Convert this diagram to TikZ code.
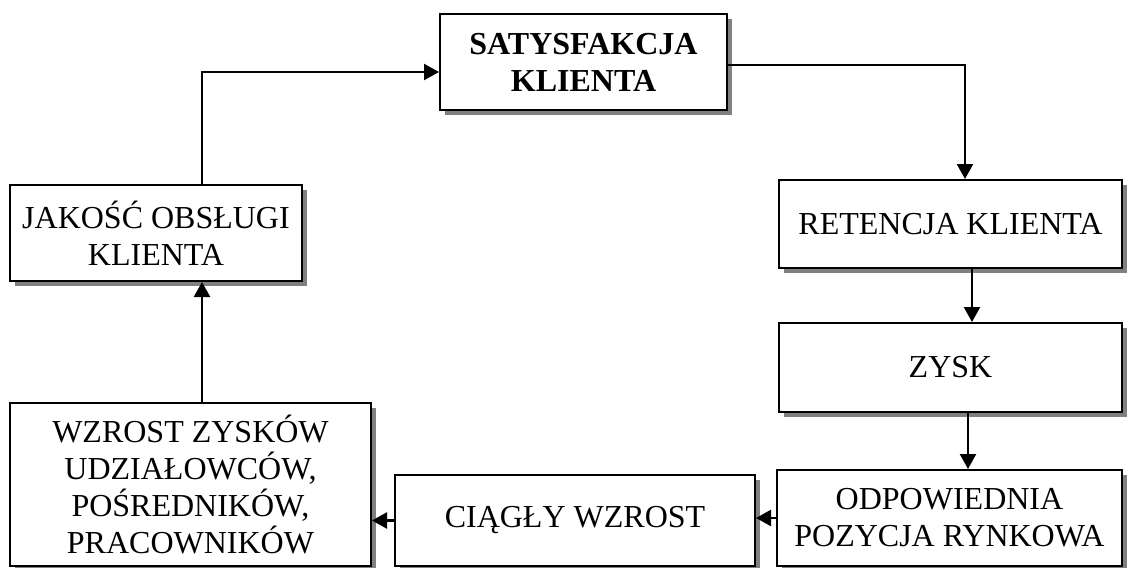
\documentclass[tikz,border=0pt]{standalone}
\usepackage{fontspec}
\setmainfont{Liberation Serif}
\usepackage{tikz}
\usetikzlibrary{arrows.meta, positioning, calc, shadows}
\tikzset{
    boxnode/.style={rectangle, draw=black, line width=1pt, fill=white, text centered, align=center, inner sep=2pt,
        drop shadow={shadow xshift=2.5pt, shadow yshift=-2.5pt, fill=black!50, opacity=1}},
    flowarrow/.style={-{Triangle[length=7.5pt, width=8pt]}, line width=1.2pt},
}

\begin{document}
\begin{tikzpicture}[x=0.5pt, y=-0.5pt, every node/.style={font=\fontsize{16}{18.5}\selectfont}]
        \useasboundingbox (0,0) rectangle (1132,568);
        \node[boxnode, minimum width=143.5pt, minimum height=48pt] (sat) at (583.5,62) {\textbf{SATYSFAKCJA}\\ \textbf{KLIENTA}};
        \node[boxnode, minimum width=146pt, minimum height=48pt] (jak) at (156,233) {JAKOŚĆ OBSŁUGI\\ KLIENTA};
        \node[boxnode, minimum width=171.5pt, minimum height=44pt] (ret) at (950.5,224) {RETENCJA KLIENTA};
        \node[boxnode, minimum width=171.5pt, minimum height=44.5pt] (zysk) at (950.5,367.5) {ZYSK};
        \node[boxnode, minimum width=172.5pt, minimum height=48pt] (odp) at (949.5,518) {ODPOWIEDNIA\\ POZYCJA RYNKOWA};
        \node[boxnode, minimum width=180pt, minimum height=45.5pt] (ciag) at (575,520.5) {CIĄGŁY WZROST};
        \node[boxnode, minimum width=180.5pt, minimum height=81.5pt] (wzr) at (190.5,484.5) {WZROST ZYSKÓW\\ UDZIAŁOWCÓW,\\ POŚREDNIKÓW,\\ PRACOWNIKÓW};

        % bend points
        \coordinate (left) at (202,72);
        \coordinate (right) at (965,65);
        \coordinate (mid1) at (972,0);
        \coordinate (mid2) at (968,0);

        \draw[flowarrow] (jak.north -| left) |- (sat.west |- left);
        \draw[flowarrow] (sat.east |- right) -| (ret.north -| right);
        \draw[flowarrow] (ret.south -| mid1) -- (zysk.north -| mid1);
        \draw[flowarrow] (zysk.south -| mid2) -- (odp.north -| mid2);
        \draw[flowarrow] (odp.west) -- (ciag.east |- odp.west);
        \draw[flowarrow] (ciag.west) -- (wzr.east |- ciag.west);
        \draw[flowarrow] (wzr.north -| left) -- (jak.south -| left);
    \end{tikzpicture}
\end{document}
